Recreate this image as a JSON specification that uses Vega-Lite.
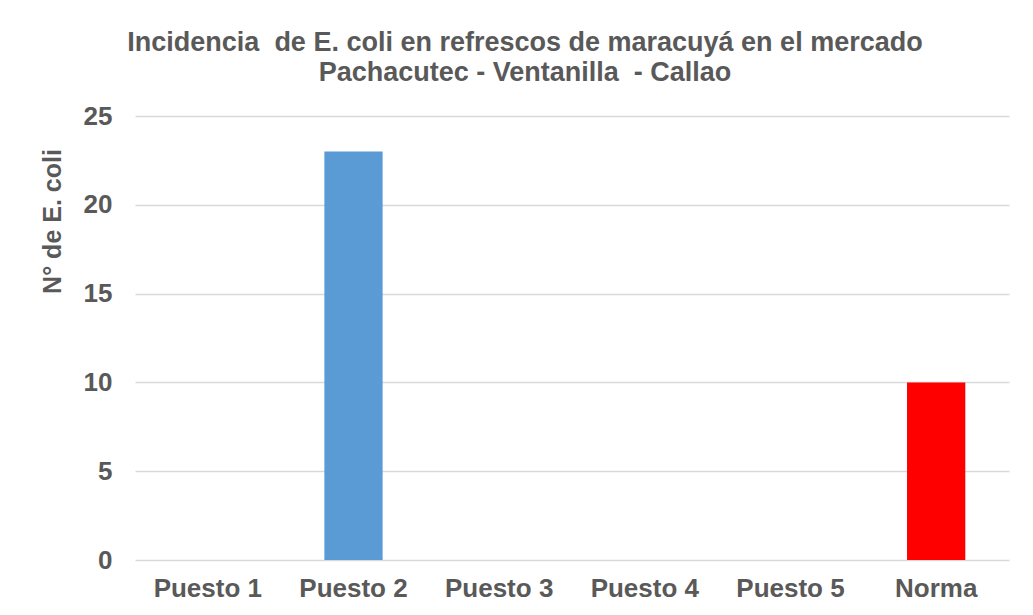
{
  "$schema": "https://vega.github.io/schema/vega-lite/v6.json",
  "width": 874,
  "height": 444,
  "autosize": {"type": "none"},
  "padding": {"left": 135, "top": 116, "right": 24, "bottom": 55},
  "background": "white",
  "title": {
    "text": ["Incidencia\u00a0 de E. coli en refrescos de maracuyá en el mercado", "Pachacutec - Ventanilla\u00a0 - Callao"],
    "anchor": "middle",
    "frame": "group",
    "dx": -47,
    "offset": -11,
    "baseline": "bottom",
    "lineHeight": 30,
    "font": "Liberation Sans",
    "fontSize": 27,
    "fontWeight": "bold",
    "color": "#595959"
  },
  "data": {
    "values": [
      {"puesto": "Puesto 1", "n": 0, "tipo": "Puesto"},
      {"puesto": "Puesto 2", "n": 23, "tipo": "Puesto"},
      {"puesto": "Puesto 3", "n": 0, "tipo": "Puesto"},
      {"puesto": "Puesto 4", "n": 0, "tipo": "Puesto"},
      {"puesto": "Puesto 5", "n": 0, "tipo": "Puesto"},
      {"puesto": "Norma", "n": 10, "tipo": "Norma"}
    ]
  },
  "mark": {"type": "bar"},
  "encoding": {
    "x": {
      "field": "puesto",
      "type": "nominal",
      "sort": null,
      "scale": {"paddingInner": 0.6, "paddingOuter": 0.3},
      "axis": {
        "title": null,
        "labelAngle": 0,
        "domain": false,
        "ticks": false,
        "labelPadding": 15,
        "labelFont": "Liberation Sans",
        "labelFontSize": 26,
        "labelFontWeight": "bold",
        "labelColor": "#595959"
      }
    },
    "y": {
      "field": "n",
      "type": "quantitative",
      "scale": {"domain": [0, 25]},
      "axis": {
        "title": "N° de E. coli",
        "values": [0, 5, 10, 15, 20, 25],
        "domain": false,
        "ticks": false,
        "labelPadding": 23,
        "labelFont": "Liberation Sans",
        "labelFontSize": 26,
        "labelFontWeight": "bold",
        "labelColor": "#595959",
        "gridColor": "#D9D9D9",
        "gridWidth": 1.3,
        "titleFont": "Liberation Sans",
        "titleFontSize": 25,
        "titleFontWeight": "bold",
        "titleColor": "#595959",
        "titleAngle": -90,
        "titleX": -83,
        "titleY": 105,
        "titleBaseline": "middle",
        "titleAlign": "center"
      }
    },
    "color": {
      "field": "tipo",
      "type": "nominal",
      "scale": {"domain": ["Puesto", "Norma"], "range": ["#5B9BD5", "#FF0000"]},
      "legend": null
    }
  },
  "config": {"view": {"stroke": null}}
}
